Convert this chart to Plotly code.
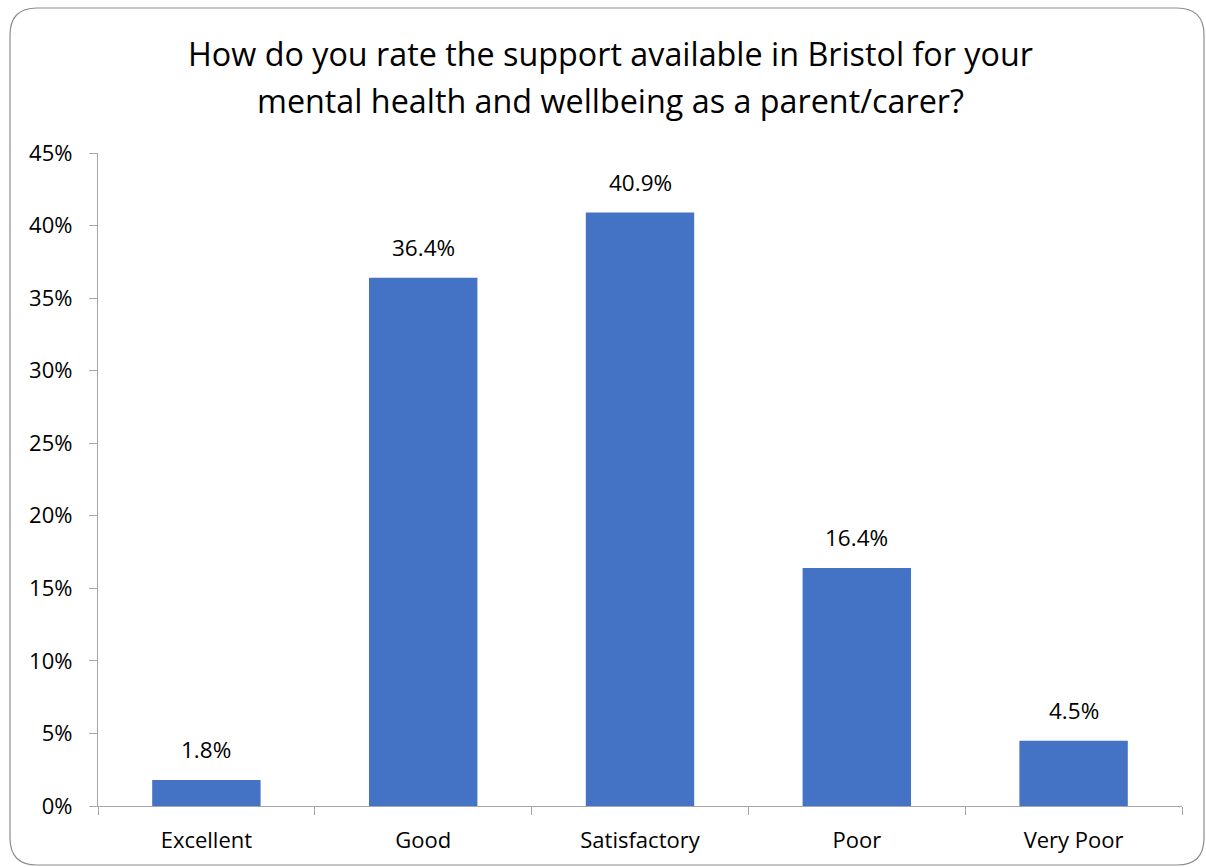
import plotly.graph_objects as go

# Survey responses (share of respondents)
categories = ["Excellent", "Good", "Satisfactory", "Poor", "Very Poor"]
shares = [1.8, 36.4, 40.9, 16.4, 4.5]
y_ticks = [0, 5, 10, 15, 20, 25, 30, 35, 40, 45]
y_tick_text = [f"{v}%" for v in y_ticks]

title_lines = [
    "How do you rate the support available in Bristol for your",
    "mental health and wellbeing as a parent/carer?",
]

W, H = 1206, 867
L, R, T, B = 98, 24, 153, 61
FONT = "Open Sans, Calibri, Carlito, sans-serif"
AXIS_GREY = "#a6a6a6"

pw, ph = W - L - R, H - T - B


def px(x):
    return (x - L) / pw


def py(y):
    return (H - B - y) / ph


fig = go.Figure(
    go.Bar(
        x=categories,
        y=shares,
        marker=dict(color="#4472C4", line=dict(width=0)),
        width=0.5,
        hoverinfo="x+y",
    )
)

# Value labels above each bar
for cat, v in zip(categories, shares):
    fig.add_annotation(
        x=cat, y=v, xref="x", yref="y",
        text=f"{v:.1f}%", showarrow=False,
        yanchor="bottom", yshift=13,
        font=dict(family=FONT, size=22.5, color="#000000"),
    )

# Two-line chart title
for line, ymid in zip(title_lines, [53, 100]):
    fig.add_annotation(
        x=(610 - L) / pw, y=py(ymid), xref="paper", yref="paper",
        text=line, showarrow=False, xanchor="center", yanchor="middle",
        font=dict(family=FONT, size=32.3, color="#000000"),
    )

# Rounded chart-area border
x0, y0, x1, y1, r = 10, 8, 1204, 865, 27
path = (
    f"M {px(x0 + r)},{py(y0)} L {px(x1 - r)},{py(y0)} "
    f"Q {px(x1)},{py(y0)} {px(x1)},{py(y0 + r)} "
    f"L {px(x1)},{py(y1 - r)} "
    f"Q {px(x1)},{py(y1)} {px(x1 - r)},{py(y1)} "
    f"L {px(x0 + r)},{py(y1)} "
    f"Q {px(x0)},{py(y1)} {px(x0)},{py(y1 - r)} "
    f"L {px(x0)},{py(y0 + r)} "
    f"Q {px(x0)},{py(y0)} {px(x0 + r)},{py(y0)} Z"
)
fig.add_shape(type="path", path=path, xref="paper", yref="paper",
              line=dict(color="#8c8c8c", width=1.2), layer="below")

fig.update_layout(
    width=W,
    height=H,
    margin=dict(l=L, r=R, t=T, b=B),
    paper_bgcolor="white",
    plot_bgcolor="white",
    showlegend=False,
    xaxis=dict(
        showline=True,
        linecolor=AXIS_GREY,
        linewidth=1.3,
        ticks="outside",
        tickson="boundaries",
        ticklen=8,
        tickcolor=AXIS_GREY,
        showgrid=False,
        ticklabelstandoff=14,
        tickfont=dict(family=FONT, size=22, color="#000000"),
    ),
    yaxis=dict(
        range=[0, 45],
        tickvals=y_ticks,
        ticktext=y_tick_text,
        showline=True,
        linecolor=AXIS_GREY,
        linewidth=1.3,
        ticks="outside",
        ticklen=8,
        tickcolor=AXIS_GREY,
        showgrid=False,
        zeroline=False,
        ticklabelstandoff=12,
        tickfont=dict(family=FONT, size=22, color="#000000"),
    ),
)

fig.write_html("out.html")
